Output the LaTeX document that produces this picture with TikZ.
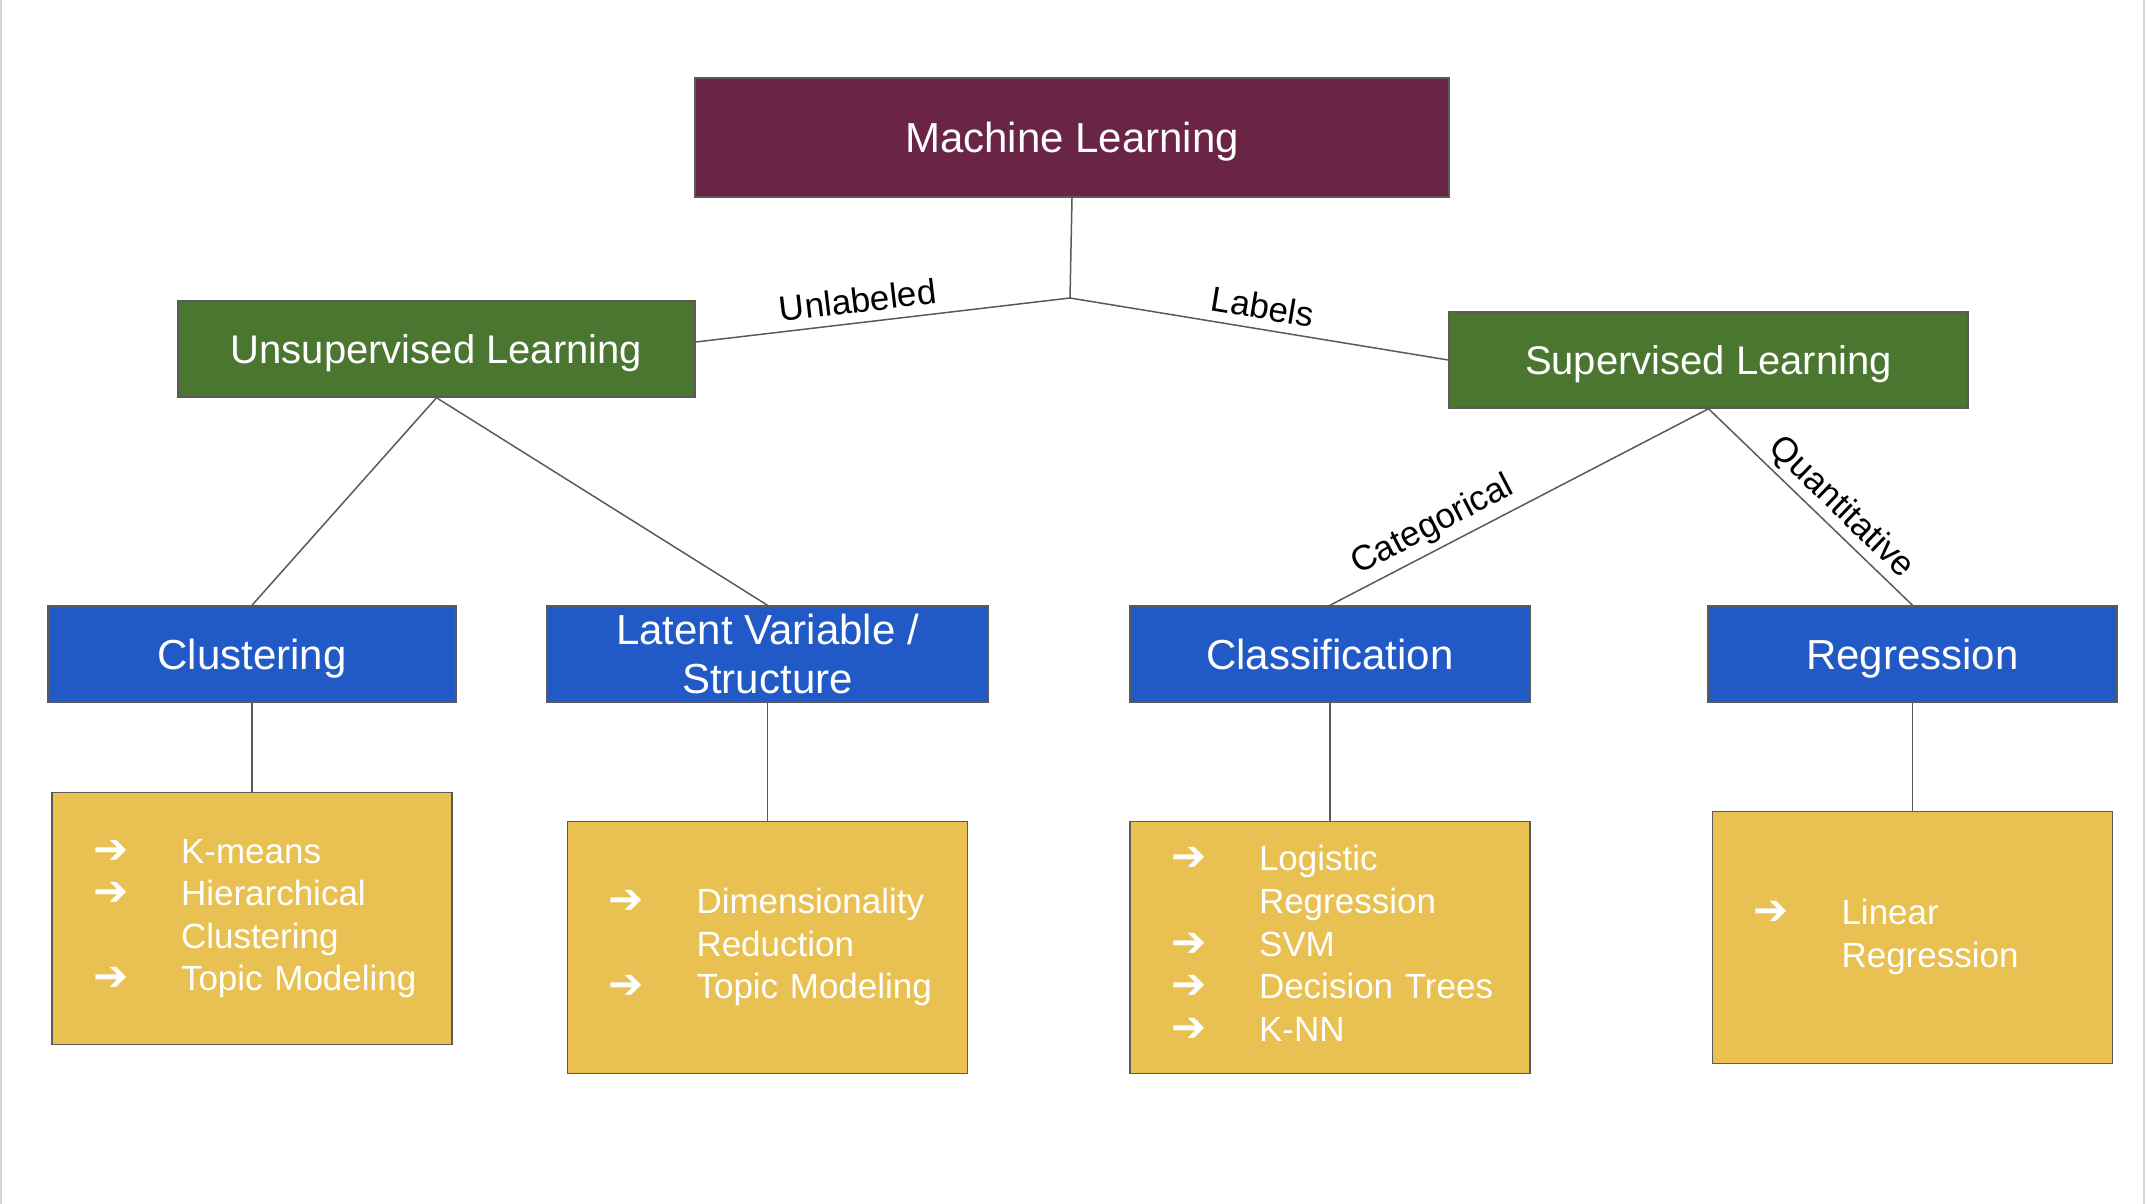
\documentclass[tikz,border=0pt]{standalone}
\usepackage{fontspec}
\setmainfont{Liberation Sans}
\newfontfamily\arrowfont{DejaVu Sans}
\usepackage{xcolor}
\usetikzlibrary{positioning}

\definecolor{mlpurple}{HTML}{6A2445}
\definecolor{learngreen}{HTML}{4A7630}
\definecolor{taskblue}{HTML}{215AC6}
\definecolor{methodyellow}{HTML}{E9C152}
\definecolor{edgegray}{HTML}{5A5A5A}
\definecolor{framegray}{HTML}{D4D4D4}

\newcommand{\methodlist}[1]{\begin{tabular}{@{}p{44pt}@{}l@{}}#1\end{tabular}}
\newcommand{\pointer}{{\arrowfont\fontsize{21}{21.3}\selectfont ➔}}

\begin{document}
\begin{tikzpicture}[x=0.5pt,y=-0.5pt]
            \tikzstyle{box} = [rectangle, draw=edgegray, line width=0.75pt, text=white, inner sep=0pt]
            \tikzstyle{root} = [box, fill=mlpurple, minimum width=377pt, minimum height=59.5pt, text depth=0pt, font=\fontsize{21}{25}\selectfont]
            \tikzstyle{learning} = [box, fill=learngreen, minimum height=48pt, text depth=0pt, font=\fontsize{20}{24}\selectfont]
            \tikzstyle{task} = [box, fill=taskblue, minimum height=48pt, align=center, font=\fontsize{21}{24.6}\selectfont]
            \tikzstyle{methods} = [box, fill=methodyellow, minimum width=200pt, minimum height=126pt, text width=159pt, inner xsep=20.5pt, align=left, font=\fontsize{17.5}{21.3}\selectfont]
            \tikzstyle{link} = [draw=edgegray, line width=0.75pt]
            \tikzstyle{tag} = [font=\fontsize{17.5}{21}\selectfont, text=black, inner sep=2pt]

            \useasboundingbox (0,0) rectangle (2146,1204);
            \draw[framegray, line width=1pt] (1,0) -- (1,1204);
            \draw[framegray, line width=1pt] (2144,0) -- (2144,1204);

            \node [root] (ml) at (1072,137.5) {Machine Learning};
            \coordinate (split) at (1070,298);
            \node [learning, minimum width=258.5pt] (unsup) at (436.5,349) {Unsupervised Learning};
            \node [learning, minimum width=259.5pt] (sup) at (1708.5,360) {Supervised Learning};

            \node [task, minimum width=204pt, text depth=0pt] (clust) at (252,654) {Clustering};
            \node [task, minimum width=220.5pt] (latent) at (767.5,654) {Latent Variable /\\Structure};
            \node [task, minimum width=200pt, text depth=0pt] (classif) at (1330,654) {Classification};
            \node [task, minimum width=204.5pt, text depth=0pt] (regr) at (1912.5,654) {Regression};

            \node [methods, below=44.5pt of clust] (clustm) {\methodlist{\pointer & K-means\\ \pointer & Hierarchical\\ & Clustering\\ \pointer & Topic Modeling}};
            \node [methods, below=59pt of latent] (latentm) {\methodlist{\pointer & Dimensionality\\ & Reduction\\ \pointer & Topic Modeling}};
            \node [methods, below=59pt of classif] (classifm) {\methodlist{\pointer & Logistic\\ & Regression\\ \pointer & SVM\\ \pointer & Decision Trees\\ \pointer & K-NN}};
            \node [methods, below=54pt of regr] (regrm) {\methodlist{\pointer & Linear\\ & Regression}};

            \draw [link] (ml.south) -- (split);
            \draw [link] (split) -- node[tag, pos=0.56, above=2.5pt, sloped] {Unlabeled} ([yshift=3.5pt]unsup.east);
            \draw [link] (split) -- node[tag, pos=0.5, above=2.5pt, sloped] {Labels} (sup.west);
            \draw [link] (unsup.south) -- (clust.north);
            \draw [link] (unsup.south) -- (latent.north);
            \draw [link] (sup.south) -- node[tag, pos=0.7, above=1pt, sloped] {Categorical} (classif.north);
            \draw [link] (sup.south) -- node[tag, pos=0.58, above, sloped] {Quantitative} (regr.north);
            \draw [link] (clust.south) -- (clustm.north);
            \draw [link] (latent.south) -- (latentm.north);
            \draw [link] (classif.south) -- (classifm.north);
            \draw [link] (regr.south) -- (regrm.north);
        \end{tikzpicture}
\end{document}
